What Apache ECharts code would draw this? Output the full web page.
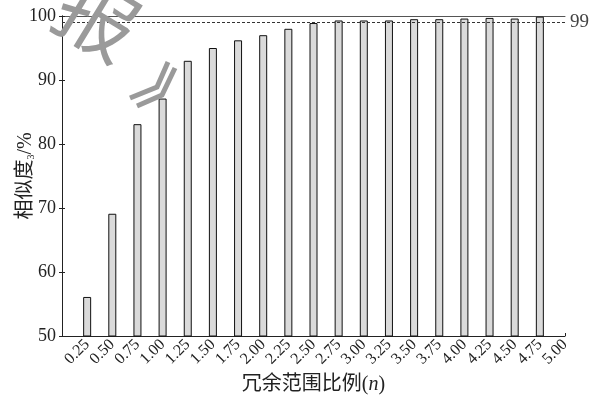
<!DOCTYPE html>
<html>
<head>
<meta charset="utf-8">
<script src="https://cdn.jsdelivr.net/npm/echarts@6/dist/echarts.min.js"></script>
<style>
  html, body { margin: 0; padding: 0; background: #fff; }
  #chart { width: 598px; height: 400px; }
</style>
</head>
<body>
<div id="chart"></div>
<script>
// Redundancy ratio n (bar positions on the x axis)
const ratios = [0.25, 0.50, 0.75, 1.00, 1.25, 1.50, 1.75, 2.00, 2.25, 2.50,
                2.75, 3.00, 3.25, 3.50, 3.75, 4.00, 4.25, 4.50, 4.75];
// Similarity (%) for each ratio
const similarity = [56.1, 69.1, 83.1, 87.1, 93.0, 95.0, 96.2, 97.0, 98.0, 98.9,
                    99.3, 99.3, 99.3, 99.5, 99.5, 99.6, 99.7, 99.6, 99.9];
// Threshold reference line
const threshold = 99;
// Axis ranges
const xRange = [0, 5], xStep = 0.25;
const yRange = [50, 100], yStep = 10;

const serif = "'Liberation Serif', 'Noto Sans CJK SC', serif";
const ink = '#222';

const chart = echarts.init(document.getElementById('chart'), null, { renderer: 'canvas' });

const option = {
  backgroundColor: '#fff',
  animation: false,
  grid: { left: 62, right: 33, top: 16, bottom: 64, containLabel: false, outerBoundsMode: 'none' },
  xAxis: [{
    type: 'value',
    min: xRange[0], max: xRange[1], interval: xStep,
    name: '冗余范围比例{it|(}{i|n}{it|)}',
    nameLocation: 'middle',
    nameGap: 39,
    nameMoveOverlap: false,
    nameTextStyle: {
      fontFamily: serif, fontSize: 20, color: ink,
      rich: {
        it: { fontFamily: serif, fontSize: 20, color: ink },
        i: { fontFamily: serif, fontSize: 20, color: ink, fontStyle: 'italic' }
      }
    },
    axisLine: { show: true, lineStyle: { color: ink, width: 1 } },
    axisTick: { show: true, inside: true, length: 3, lineStyle: { color: ink } },
    axisLabel: {
      rotate: 45, margin: 6,
      fontFamily: serif, fontSize: 16, color: ink,
      formatter: v => (v === 0 ? '' : v.toFixed(2))
    },
    splitLine: { show: false }
  }, {
    type: 'value', position: 'top',
    min: xRange[0], max: xRange[1], interval: xStep,
    axisLine: { show: true, lineStyle: { color: '#555', width: 1 } },
    axisTick: { show: false }, axisLabel: { show: false }, splitLine: { show: false }
  }],
  yAxis: [{
    type: 'value',
    min: yRange[0], max: yRange[1], interval: yStep,
    name: '相似度{sub|3}/%',
    nameLocation: 'middle',
    nameRotate: 90,
    nameGap: 26,
    nameMoveOverlap: false,
    nameTextStyle: {
      fontFamily: serif, fontSize: 20, color: ink,
      rich: { sub: { fontFamily: serif, fontSize: 10, color: ink, verticalAlign: 'bottom', padding: [9, 0, 0, 0] } }
    },
    axisLine: { show: true, lineStyle: { color: ink, width: 1 } },
    axisTick: { show: true, inside: true, length: 3, lineStyle: { color: ink } },
    axisLabel: { fontFamily: serif, fontSize: 18, color: ink, margin: 6 },
    splitLine: { show: false }
  }, {
    type: 'value', position: 'right',
    min: yRange[0], max: yRange[1], interval: yStep,
    axisLine: { show: true, lineStyle: { color: ink, width: 1 } },
    axisTick: { show: true, inside: true, length: 3, lineStyle: { color: ink } },
    axisLabel: { show: false }, splitLine: { show: false }
  }],
  series: [{
    type: 'bar',
    xAxisIndex: 0, yAxisIndex: 0,
    barWidth: 8,
    data: ratios.map((r, i) => [r, similarity[i]]),
    itemStyle: { color: '#dadada', borderColor: '#111', borderWidth: 1 },
    markLine: {
      silent: true,
      symbol: 'none',
      data: [{ yAxis: threshold }],
      lineStyle: { type: [3, 2], color: '#333', width: 1 },
      label: {
        position: 'end', distance: 5,
        formatter: String(threshold),
        fontFamily: serif, fontSize: 19, color: '#444'
      }
    }
  }],
  graphic: [{
    type: 'text',
    x: 98, y: 18,
    rotation: -0.55,
    z: 100,
    style: {
      text: '报',
      font: '80px "Noto Sans CJK SC"',
      fill: '#9a9a9a',
      align: 'center',
      verticalAlign: 'middle'
    }
  }, {
    type: 'polyline',
    z: 100,
    shape: { points: [[130, 98], [157, 87], [168, 62]] },
    style: { stroke: '#9a9a9a', lineWidth: 5, fill: null }
  }, {
    type: 'polyline',
    z: 100,
    shape: { points: [[137, 106], [162, 95], [175, 68]] },
    style: { stroke: '#9a9a9a', lineWidth: 5, fill: null }
  }]
};

chart.setOption(option);
</script>
</body>
</html>
